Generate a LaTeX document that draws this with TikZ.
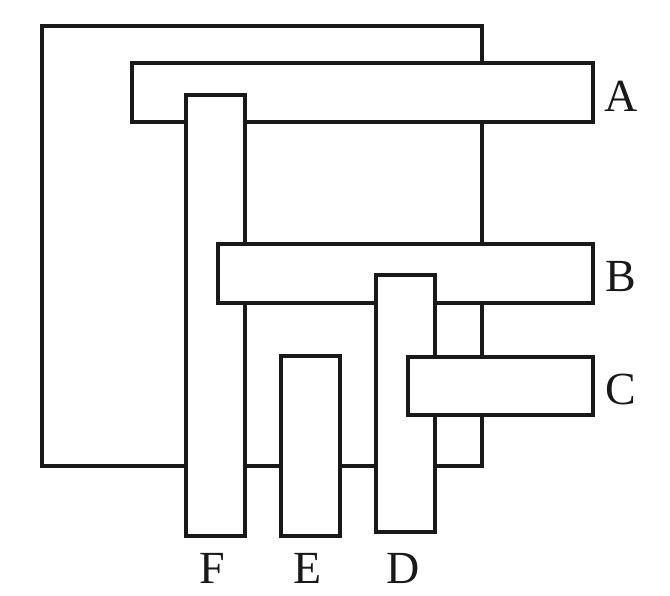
\documentclass[tikz,border=0pt]{standalone}
\usepackage{fontspec}
\setmainfont{Liberation Serif}
\begin{document}
\begin{tikzpicture}[x=1pt,y=-1pt,
  plate/.style={draw=black!90,fill=white,line width=4.2pt,rectangle,inner sep=0pt,outer sep=0pt},
  lbl/.style={font=\fontsize{46}{50}\selectfont,inner sep=0pt,text=black!90}]
\useasboundingbox (0,0) rectangle (670,596);
\node[plate,minimum width=440pt,minimum height=440pt] (sq) at (262,246) {};
\node[plate,minimum width=461pt,minimum height=59pt] (A) at (362.5,92.5) {};
\node[plate,minimum width=59pt,minimum height=441pt] (F) at (215.5,315.5) {};
\node[plate,minimum width=375pt,minimum height=59pt] (B) at (405.5,273.5) {};
\node[plate,minimum width=59pt,minimum height=257pt] (D) at (405.5,403.5) {};
\node[plate,minimum width=185pt,minimum height=58pt] (C) at (500.5,386) {};
\node[plate,minimum width=59pt,minimum height=180pt] (E) at (310.5,446) {};
\node[lbl,anchor=base west] (lA) at (604,112) {A};
\node[lbl,anchor=base west] (lB) at (605,292) {B};
\node[lbl,anchor=base west] (lC) at (605,404) {C};
\node[lbl,anchor=base] (lF) at (212,583) {F};
\node[lbl,anchor=base] (lE) at (308,583) {E};
\node[lbl,anchor=base] (lD) at (403,583) {D};
\end{tikzpicture}
\end{document}
